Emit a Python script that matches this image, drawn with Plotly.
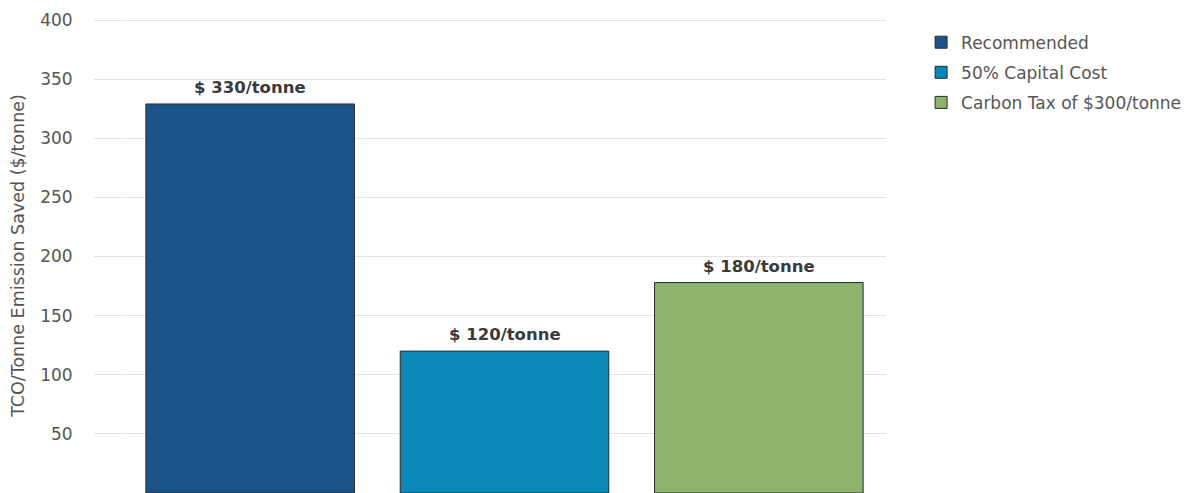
import plotly.graph_objects as go

# scenarios and TCO per tonne of emission saved
scenarios = ["Recommended", "50% Capital Cost", "Carbon Tax of $300/tonne"]
tco_saved = [329, 120, 178]
bar_labels = ["$ 330/tonne", "$ 120/tonne", "$ 180/tonne"]
bar_colors = ["#1a5488", "#0889ba", "#8cb46c"]

fig = go.Figure()
for i in range(len(scenarios)):
    fig.add_trace(go.Bar(
        x=[scenarios[i]],
        y=[tco_saved[i]],
        name=scenarios[i],
        legendgroup=scenarios[i],
        marker=dict(color=bar_colors[i], line=dict(color="#2b2b2b", width=1)),
    ))
    # value label sitting a bit above the bar
    fig.add_annotation(x=scenarios[i], y=tco_saved[i], text=bar_labels[i],
                       showarrow=False, yanchor="bottom", yshift=5,
                       font=dict(family="DejaVu Sans", size=16.5, color="#3a3a3a", weight="bold"))

# page has an 8px body margin, so figure is offset; the legend runs past the
# window edge in the original, so the figure is made a bit wider than the window
fig.update_layout(
    width=1210, height=493,
    margin=dict(l=115, r=332, t=10, b=8),
    paper_bgcolor="white", plot_bgcolor="white",
    barmode="overlay", bargap=0.18,
    font=dict(family="DejaVu Sans", size=16, color="#555555"),
    legend=dict(x=1.046, y=0.986, xanchor="left", yanchor="top",
                font=dict(size=17, color="#555555"), tracegroupgap=5),
    showlegend=True,
)
fig.update_xaxes(showticklabels=False, showgrid=False, zeroline=False, showline=False)
fig.update_yaxes(
    range=[0, 401.7], tickvals=[0, 50, 100, 150, 200, 250, 300, 350, 400],
    showgrid=True, gridcolor="#e3e3e3", gridwidth=1,
    ticks="outside", ticklen=28, tickcolor="#e3e3e3", ticklabelstandoff=18,
    zeroline=False, showline=False, automargin=False,
    tickfont=dict(size=17, color="#555555"),
    title=dict(text="TCO/Tonne Emission Saved ($/tonne)", font=dict(size=17.5, color="#555555"), standoff=13),
)

fig.write_html("out.html")
